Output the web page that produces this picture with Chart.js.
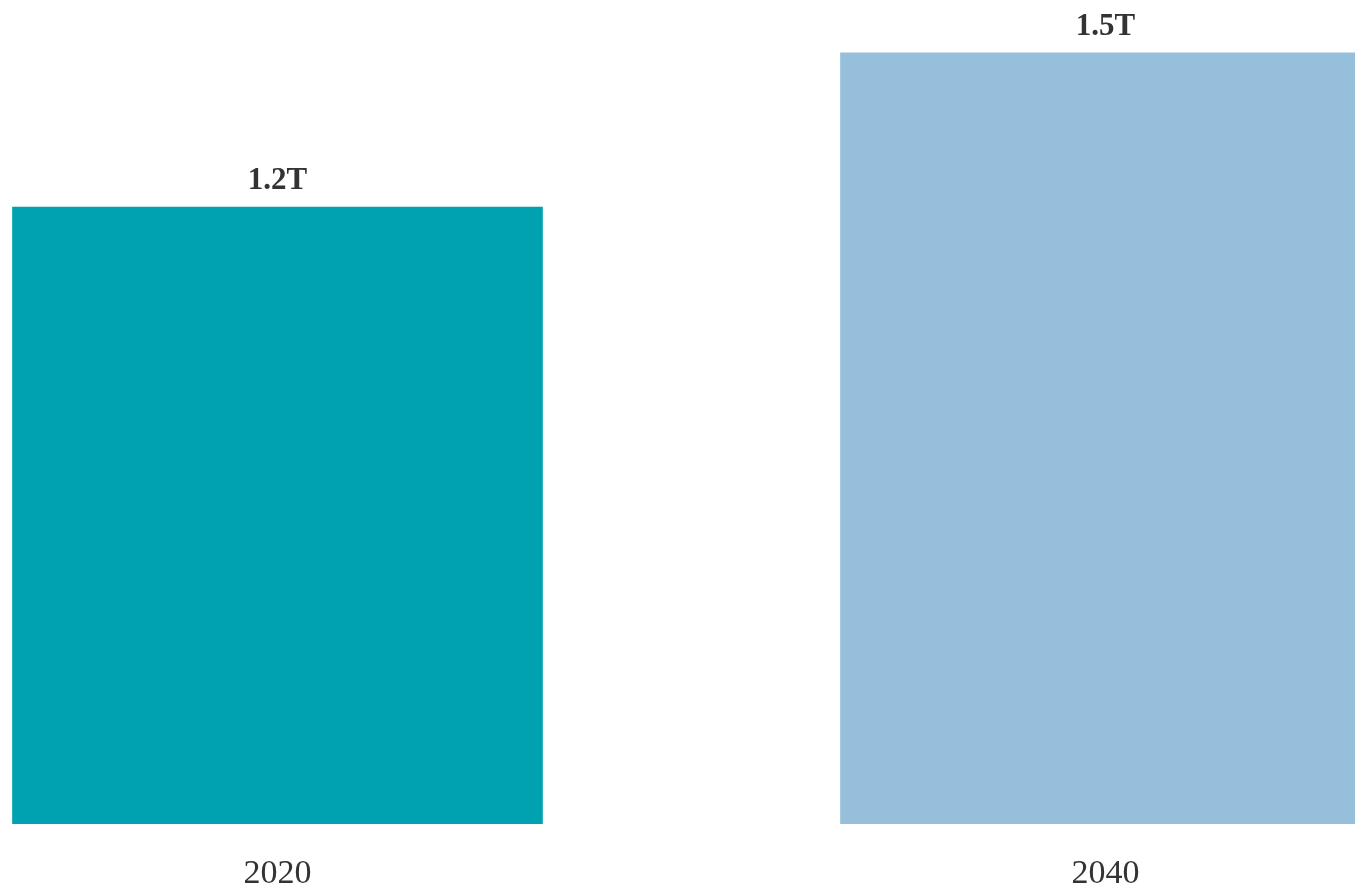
<!DOCTYPE html>
<html>
<head>
<meta charset="utf-8">
<script src="https://cdn.jsdelivr.net/npm/chart.js@4/dist/chart.umd.min.js"></script>
<style>
  html, body { margin: 0; padding: 0; background: #ffffff; }
  #wrap { width: 1355px; height: 889px; }
</style>
</head>
<body>
<div id="wrap"><canvas id="moneyCanvas"></canvas></div>
<script>
"use strict"

// Chart data
const years = ['2020', '2040'];
const amounts = [1.2, 1.5];
const amountLabels = ['1.2T', '1.5T'];
const barColors = ['#00A1B1', '#95BFDA'];


// Draws the value above each bar
const valueLabels = {
    id: 'valueLabels',
    afterDatasetsDraw(chart) {
        const ctx = chart.ctx;
        const meta = chart.getDatasetMeta(0);
        ctx.save();
        ctx.font = 'bold 31px "Liberation Serif", serif';
        ctx.fillStyle = '#333333';
        ctx.textAlign = 'center';
        ctx.textBaseline = 'alphabetic';
        meta.data.forEach(function (bar, i) {
            ctx.fillText(amountLabels[i], bar.x, bar.y - 18);
        });
        ctx.restore();
    }
};


const graphData = {
    datasets: [{
        label: 'Amount',
        data: years.map(function (y, i) { return { x: i, y: amounts[i] }; }),
        backgroundColor: barColors,
        borderWidth: 0,
        barThickness: 530
    }]
};

const config = {
    type: 'bar',
    data: graphData,
    options: {
        responsive: true,
        maintainAspectRatio: false,
        animation: false,
        layout: { padding: 0 },
        plugins: {
            legend: { display: false },
            tooltip: { enabled: false }
        },
        scales: {
            x: {
                type: 'linear',
                offset: false,
                min: -0.3351,
                max: 1.3013,
                grid: { display: false, drawTicks: false },
                border: { display: false },
                afterBuildTicks: function (axis) {
                    axis.ticks = years.map(function (y, i) { return { value: i }; });
                },
                afterFit: function (axis) {
                    axis.height = 65;
                },
                ticks: {
                    padding: 30,
                    color: '#333333',
                    font: { family: '"Liberation Serif", serif', size: 34 },
                    callback: function (value) { return years[value]; }
                }
            },
            y: {
                display: false,
                min: 0,
                max: 1.603
            }
        }
    },
    plugins: [valueLabels]
};

window.myChart = new Chart(
    document.getElementById('moneyCanvas'),
    config
);
</script>
</body>
</html>
